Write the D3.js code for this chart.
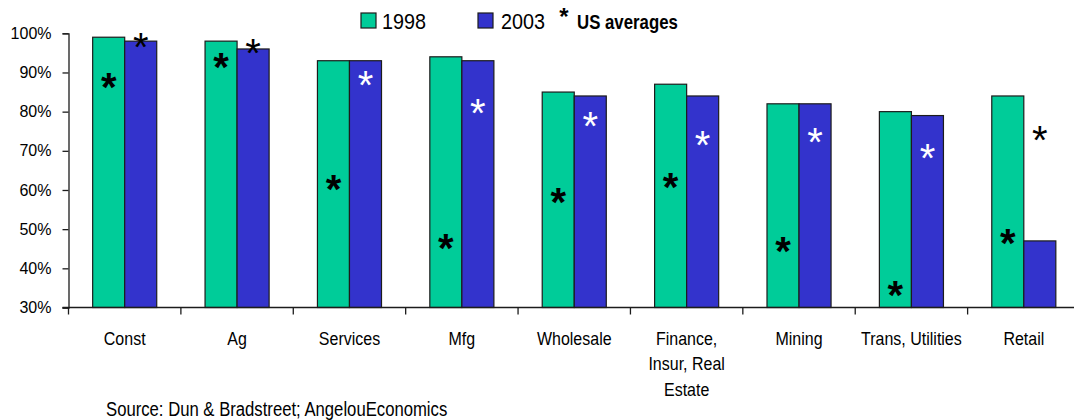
<!DOCTYPE html>
<html>
<head>
<meta charset="utf-8">
<script src="https://cdn.jsdelivr.net/npm/d3@7"></script>
<style>
  html, body { margin: 0; padding: 0; background: #fff; }
  svg { display: block; }
  svg text { font-family: "Liberation Sans", Arial, sans-serif; }
</style>
</head>
<body>
<svg id="chart" width="1074" height="420"></svg>
<script>
// Share of firms by industry, 1998 vs 2003, with US averages marked by asterisks
const categories = ["Const", "Ag", "Services", "Mfg", "Wholesale",
  "Finance,\nInsur, Real\nEstate", "Mining", "Trans, Utilities", "Retail"];
const seriesNames = ["1998", "2003"];
const values1998 = [99, 98, 93, 94, 85, 87, 82, 80, 84];
const values2003 = [98, 96, 93, 93, 84, 84, 82, 79, 47];
const usAvg1998 = [87.3, 92.5, 61.5, 46.4, 58, 61.8, 45.6, 34.2, 47.5];
const usAvg2003 = [97.5, 96.2, 88, 80.8, 77.5, 72.7, 73.4, 69.4, 74];
const yTicks = [30, 40, 50, 60, 70, 80, 90, 100];
const sourceNote = "Source: Dun & Bradstreet; AngelouEconomics";
const legendStarLabel = "US averages";

const colors = { "1998": "#00CC99", "2003": "#3333CC" };
const outline = "#1c1c1c";

const svg = d3.select("#chart");

const plotLeft = 68.5, plotRight = 1080, plotTop = 33.3, plotBottom = 307.5;

const x = d3.scaleBand().domain(categories).range([plotLeft, plotRight]).padding(0);
const inner = d3.scaleBand().domain(seriesNames)
  .range([x.bandwidth() * 0.215, x.bandwidth() * 0.785]).padding(0);
const y = d3.scaleLinear().domain([30, 100]).range([plotBottom, plotTop]);

// text that is drawn slightly condensed (taller than wide)
function tallText(sel, px, py, sy) {
  return sel.append("text")
    .attr("transform", `translate(${px},${py}) scale(1,${sy})`)
    .attr("fill", "#000");
}

const rows = categories.map((c, i) => ({
  cat: c,
  bars: [
    { s: "1998", v: values1998[i], avg: usAvg1998[i] },
    { s: "2003", v: values2003[i], avg: usAvg2003[i] }
  ]
}));

// bars
const groups = svg.append("g").selectAll("g").data(rows).join("g")
  .attr("transform", d => `translate(${x(d.cat)},0)`);

groups.selectAll("rect").data(d => d.bars).join("rect")
  .attr("x", d => inner(d.s))
  .attr("y", d => y(d.v))
  .attr("width", inner.bandwidth())
  .attr("height", d => y(30) - y(d.v))
  .attr("fill", d => colors[d.s])
  .attr("stroke", outline)
  .attr("stroke-width", 1.2);

// US average asterisks
groups.selectAll("text.star").data(d => d.bars).join("text")
  .attr("class", "star")
  .attr("x", d => inner(d.s) + inner.bandwidth() / 2)
  .attr("y", d => y(d.avg))
  .attr("dy", "0.46em")
  .attr("text-anchor", "middle")
  .attr("font-size", 40)
  .attr("font-weight", d => d.s === "1998" ? "bold" : "normal")
  .attr("fill", d => (d.s === "2003" && d.avg < d.v - 3) ? "#ffffff" : "#000000")
  .text("*");

// y axis
const yAxis = svg.append("g")
  .attr("transform", `translate(${plotLeft},0)`)
  .call(d3.axisLeft(y).tickValues(yTicks).tickSize(6).tickPadding(11)
    .tickFormat(d => d + "%"));
yAxis.select(".domain").attr("stroke", outline).attr("stroke-width", 1.3);
yAxis.selectAll(".tick line").attr("stroke", outline).attr("stroke-width", 1.3);
yAxis.selectAll(".tick text")
  .attr("font-family", "Liberation Sans, Arial, sans-serif")
  .attr("font-size", 16)
  .attr("fill", "#000");

// x axis baseline with ticks at category boundaries
const xAxis = svg.append("g");
xAxis.append("line")
  .attr("x1", plotLeft - 6).attr("x2", 1074)
  .attr("y1", plotBottom).attr("y2", plotBottom)
  .attr("stroke", outline).attr("stroke-width", 1.3);
xAxis.selectAll("line.b").data(categories).join("line")
  .attr("class", "b")
  .attr("x1", d => x(d)).attr("x2", d => x(d))
  .attr("y1", plotBottom).attr("y2", plotBottom + 7)
  .attr("stroke", outline).attr("stroke-width", 1.3);

// category labels
const labelLayer = svg.append("g");
categories.forEach(c => {
  const t = tallText(labelLayer, x(c) + x.bandwidth() / 2, 345, 1.18)
    .attr("text-anchor", "middle")
    .attr("font-size", 16);
  t.selectAll("tspan").data(c.split("\n")).join("tspan")
    .attr("x", 0)
    .attr("dy", (d, i) => i === 0 ? 0 : 25.5 / 1.18)
    .text(d => d);
});

// legend
const legend = svg.append("g");
const legendItems = [
  { s: "1998", bx: 361, tx: 382 },
  { s: "2003", bx: 478, tx: 501 }
];
legend.selectAll("rect").data(legendItems).join("rect")
  .attr("x", d => d.bx).attr("y", 13)
  .attr("width", 15).attr("height", 15)
  .attr("fill", d => colors[d.s])
  .attr("stroke", outline).attr("stroke-width", 1.2);
legendItems.forEach(d => {
  tallText(legend, d.tx, 29, 1.12).attr("font-size", 19.8).text(d.s);
});
legend.append("text")
  .attr("x", 564).attr("y", 13.5).attr("dy", "0.46em")
  .attr("text-anchor", "middle")
  .attr("font-size", 24).attr("font-weight", "bold")
  .text("*");
tallText(legend, 577, 29, 1.15)
  .attr("font-size", 16.8).attr("font-weight", "bold")
  .text(legendStarLabel);

// source note
tallText(svg, 106, 415.5, 1.17)
  .attr("font-size", 16.7)
  .text(sourceNote);
</script>
</body>
</html>
